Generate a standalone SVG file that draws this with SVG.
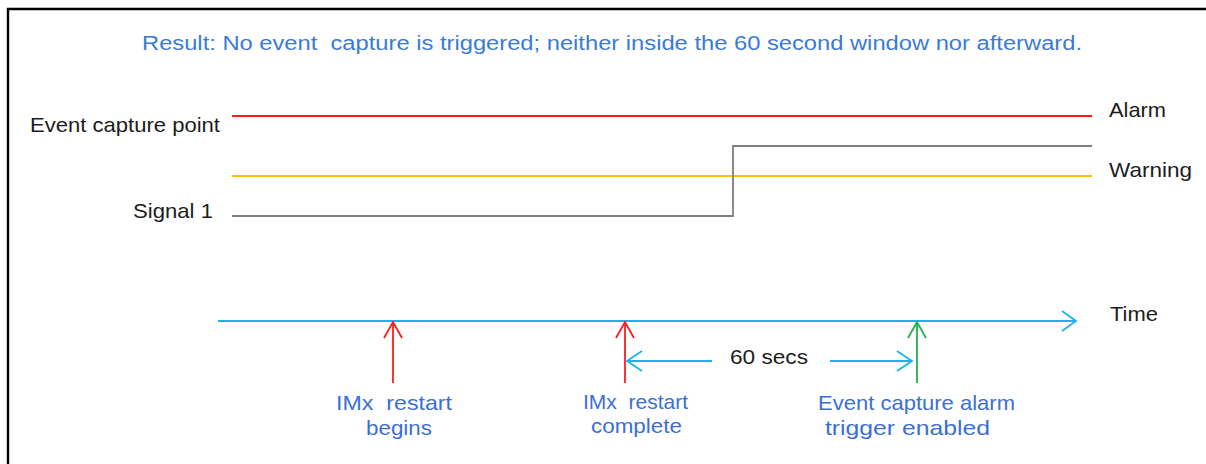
<svg xmlns="http://www.w3.org/2000/svg" width="1206" height="464" viewBox="0 0 1206 464">
<defs>
<style>
text{font-family:"Liberation Sans",Arial,sans-serif;font-size:21px}
.blk{fill:#1c1c1c}
.blu{fill:#3b6fd6}
.pre{white-space:pre}
.ln{fill:none;stroke-width:1.8}
.head{fill:none;stroke-width:1.8}
</style>
</defs>
<rect width="1206" height="464" fill="#fff"/>
<path d="M8,464 V9 H1206" fill="none" stroke="#000" stroke-width="2.4"/>
<text class="pre" x="142" y="50" textLength="940" lengthAdjust="spacingAndGlyphs" style="fill:#3a7bd5;font-size:20px">Result: No event  capture is triggered; neither inside the 60 second window nor afterward.</text>
<g id="labels">
<text class="blk" x="30" y="132" textLength="190" lengthAdjust="spacingAndGlyphs">Event capture point</text>
<text class="blk" x="133" y="218" textLength="80" lengthAdjust="spacingAndGlyphs">Signal 1</text>
<text class="blk" x="1109" y="117" textLength="57" lengthAdjust="spacingAndGlyphs">Alarm</text>
<text class="blk" x="1109" y="177" textLength="83" lengthAdjust="spacingAndGlyphs">Warning</text>
<text class="blk" x="1110" y="321" textLength="48" lengthAdjust="spacingAndGlyphs">Time</text>
</g>
<g id="connectors">
<line id="alarm-line" x1="232" y1="116" x2="1092" y2="116" stroke="#ff1a1a" class="ln"/>
<line id="warning-line" x1="232" y1="176" x2="1092" y2="176" stroke="#ffc000" class="ln"/>
<polyline id="signal-line" points="232,216 733,216 733,146 1092,146" stroke="#7f7f7f" class="ln"/>
<line id="time-axis" x1="218" y1="321" x2="1076" y2="321" stroke="#1eb0ee" class="ln"/>
<path d="M1062,311 L1076,321 L1062,331" stroke="#1eb0ee" class="head"/>
<line x1="393" y1="383" x2="393" y2="322" stroke="#ff1a1a" class="ln"/>
<path d="M384,338 L393,322 L402,338" stroke="#ff1a1a" class="head"/>
<line x1="625" y1="383" x2="625" y2="322" stroke="#ff1a1a" class="ln"/>
<path d="M616,338 L625,322 L634,338" stroke="#ff1a1a" class="head"/>
<line x1="917" y1="383" x2="917" y2="322" stroke="#22b14c" class="ln"/>
<path d="M908,338 L917,322 L926,338" stroke="#22b14c" class="head"/>
<line x1="627" y1="361" x2="712" y2="361" stroke="#1eb0ee" class="ln"/>
<path d="M642,351 L627,361 L642,371" stroke="#1eb0ee" class="head"/>
<line x1="830" y1="361" x2="912" y2="361" stroke="#1eb0ee" class="ln"/>
<path d="M897,351 L912,361 L897,371" stroke="#1eb0ee" class="head"/>
</g>
<g id="n60"><text class="blk" x="730" y="364" textLength="78" lengthAdjust="spacingAndGlyphs">60 secs</text></g>
<g id="restart-begins">
<text class="blu pre" x="336" y="410" textLength="116" lengthAdjust="spacingAndGlyphs">IMx  restart</text>
<text class="blu" x="366" y="435" textLength="66" lengthAdjust="spacingAndGlyphs">begins</text>
</g>
<g id="restart-complete">
<text class="blu pre" x="583" y="409" textLength="105" lengthAdjust="spacingAndGlyphs">IMx  restart</text>
<text class="blu" x="591" y="433" textLength="91" lengthAdjust="spacingAndGlyphs">complete</text>
</g>
<g id="trigger-enabled">
<text class="blu" x="818" y="410" textLength="197" lengthAdjust="spacingAndGlyphs">Event capture alarm</text>
<text class="blu" x="825" y="435" textLength="165" lengthAdjust="spacingAndGlyphs">trigger enabled</text>
</g>
</svg>
